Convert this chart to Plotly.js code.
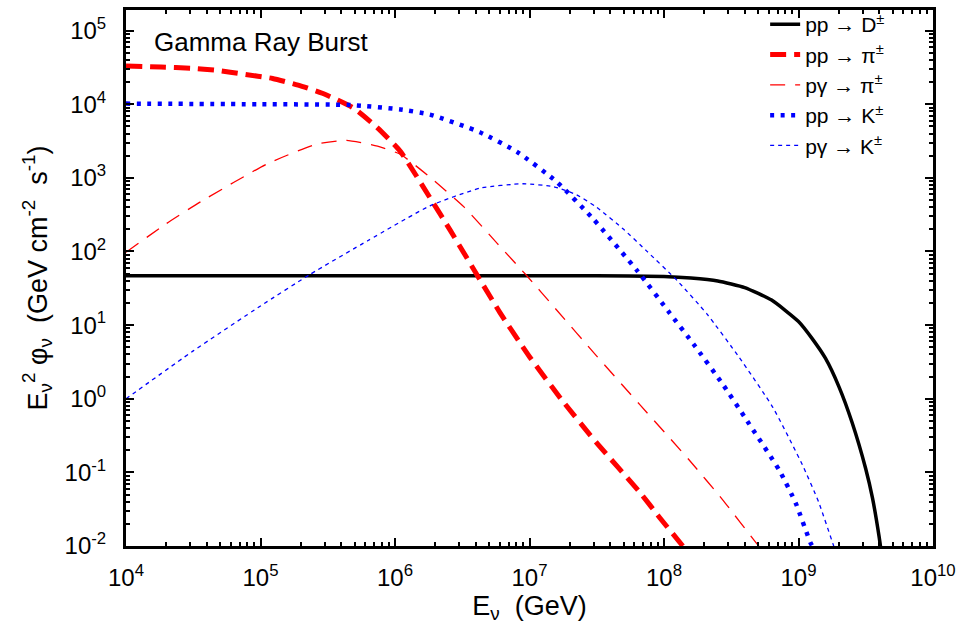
<!DOCTYPE html>
<html>
<head>
<meta charset="utf-8">
<script src="https://cdn.plot.ly/plotly-3.0.1.min.js"></script>
<style>html,body{margin:0;padding:0;background:#fff;}#chart{width:967px;height:632px;}</style>
</head>
<body>
<div id="chart"></div>
<script>
// pp -> D±
var dX = [1e4, 1e5, 1e6, 1e7, 3.16e7, 1e8, 1.585e8, 2.51e8, 3.98e8, 6.31e8, 1e9, 1.26e9, 1.585e9, 2e9, 2.51e9, 3.16e9, 3.55e9, 3.98e9, 4.17e9];
var dY = [46.8, 46.8, 46.8, 46.8, 46.8, 45.7, 43.6, 39.8, 32.4, 21.9, 11.2, 6.61, 3.55, 1.45, 0.468, 0.112, 0.0447, 0.0132, 0.0071];

// pp -> pi±
var ppPiX = [1e4, 1.82e4, 3.02e4, 4.79e4, 7.41e4, 1.23e5, 1.905e5, 2.88e5, 4.90e5, 7.41e5, 1.096e6, 1.82e6, 2.57e6, 4.27e6, 6.03e6, 1e7, 1.78e7, 3.16e7, 6.61e7, 9.33e7, 1.38e8, 1.585e8];
var ppPiY = [3.31e4, 3.20e4, 3.09e4, 2.88e4, 2.57e4, 2.24e4, 1.82e4, 1.41e4, 8910, 4790, 2290, 537, 195, 41.7, 14.8, 3.72, 0.912, 0.251, 0.0537, 0.0240, 0.0100, 0.0074];

// p gamma -> pi±
var pgPiX = [1e4, 2e4, 3.55e4, 1.12e5, 2.63e5, 4.37e5, 7.41e5, 1.096e6, 1.82e6, 3.24e6, 5.75e6, 9.55e6, 1.585e7, 3.16e7, 6.61e7, 1.55e8, 2.75e8, 5.01e8, 5.5e8];
var pgPiY = [97.7, 240, 468, 1550, 2880, 3240, 2690, 2090, 1020, 407, 129, 46.8, 16.2, 3.80, 0.832, 0.145, 0.0417, 0.0102, 0.0085];

// pp -> K±
var ppKX = [1e4, 1e5, 4.68e5, 1.096e6, 1.82e6, 4.27e6, 8.13e6, 1.585e7, 2.95e7, 6.31e7, 1.096e8, 1.66e8, 2.75e8, 3.98e8, 7.24e8, 9.55e8, 1.23e9, 1.32e9];
var ppKY = [1.02e4, 1.0e4, 9770, 8510, 7240, 4170, 2240, 891, 282, 55.0, 14.8, 5.50, 1.55, 0.562, 0.105, 0.038, 0.011, 0.0089];

// p gamma -> K±
var pgKX = [1e4, 3.16e4, 1e5, 2.34e5, 6.31e5, 1.82e6, 4.27e6, 8.91e6, 1.51e7, 2.24e7, 3.16e7, 5.01e7, 7.41e7, 1.26e8, 2.09e8, 3.63e8, 6.46e8, 1.07e9, 1.41e9, 1.82e9, 1.95e9];
var pgKY = [1.0, 4.47, 18.2, 49.0, 141, 417, 724, 832, 759, 589, 398, 200, 102, 39.8, 14.1, 3.63, 0.759, 0.126, 0.0398, 0.0102, 0.0071];

var seriesNames = ['pp \u2192 D<sup>\u00b1</sup>', 'pp \u2192 \u03c0<sup>\u00b1</sup>', 'p\u03b3 \u2192 \u03c0<sup>\u00b1</sup>', 'pp \u2192 K<sup>\u00b1</sup>', 'p\u03b3 \u2192 K<sup>\u00b1</sup>'];

var xTickVals = [1e4, 1e5, 1e6, 1e7, 1e8, 1e9, 1e10];
var xTickText = ['10<sup>4</sup>', '10<sup>5</sup>', '10<sup>6</sup>', '10<sup>7</sup>', '10<sup>8</sup>', '10<sup>9</sup>', '10<sup>10</sup>'];
var yTickVals = [1e-2, 1e-1, 1, 10, 100, 1e3, 1e4, 1e5];
var yTickText = ['10<sup>-2</sup>', '10<sup>-1</sup>', '10<sup>0</sup>', '10<sup>1</sup>', '10<sup>2</sup>', '10<sup>3</sup>', '10<sup>4</sup>', '10<sup>5</sup>'];

var FONT = 'Liberation Sans, Arial, Helvetica, sans-serif';
var NB = '\u00a0';

var traces = [
  {x: dX, y: dY, name: seriesNames[0], mode: 'lines', line: {color: '#000000', width: 3.5, shape: 'spline', smoothing: 0.5}},
  {x: ppPiX, y: ppPiY, name: seriesNames[1], mode: 'lines', line: {color: '#ff0000', width: 5, dash: '16px,8px', shape: 'spline', smoothing: 0.5}},
  {x: pgPiX, y: pgPiY, name: seriesNames[2], mode: 'lines', line: {color: '#ff0000', width: 1.3, dash: '15px,10px', shape: 'spline', smoothing: 0.5}},
  {x: ppKX, y: ppKY, name: seriesNames[3], mode: 'lines', line: {color: '#0000ff', width: 4.5, dash: '4px,6.5px', shape: 'spline', smoothing: 0.5}},
  {x: pgKX, y: pgKY, name: seriesNames[4], mode: 'lines', line: {color: '#0000ff', width: 1.3, dash: '4px,4px', shape: 'spline', smoothing: 0.5}}
];

var axisCommon = {
  type: 'log',
  showline: true, linewidth: 3, linecolor: '#000',
  mirror: 'allticks',
  ticks: 'inside', ticklen: 8, tickwidth: 2, tickcolor: '#000',
  showgrid: false, zeroline: false,
  tickmode: 'array',
  minor: {ticks: 'inside', ticklen: 4, tickwidth: 2, tickcolor: '#000', dtick: 'D1', showgrid: false},
  tickfont: {family: FONT, size: 24, color: '#000'},
  automargin: false
};

var layout = {
  width: 967, height: 632,
  margin: {l: 126, r: 34, t: 4, b: 86},
  paper_bgcolor: '#fff', plot_bgcolor: '#fff',
  font: {family: FONT, color: '#000'},
  showlegend: true,
  legend: {x: 0.792, y: 1.011, xanchor: 'left', yanchor: 'top', bgcolor: 'rgba(0,0,0,0)',
           font: {family: FONT, size: 21, color: '#000'}, tracegroupgap: 0},
  xaxis: Object.assign({}, axisCommon, {
    range: [4, 10], tickvals: xTickVals, ticktext: xTickText,
    ticklabelstandoff: 8,
    title: {text: 'E<sub>\u03bd</sub>' + NB.repeat(2) + '(GeV)', font: {family: FONT, size: 27, color: '#000'}, standoff: 6}
  }),
  yaxis: Object.assign({}, axisCommon, {
    range: [-2, 5.28], tickvals: yTickVals, ticktext: yTickText,
    ticklabelstandoff: 12,
    title: {text: 'E<sub>\u03bd</sub><sup>2</sup> \u03c6<sub>\u03bd</sub>' + NB.repeat(2) + '(GeV cm<sup>-2</sup>' + NB.repeat(2) + 's<sup>-1</sup>)',
            font: {family: FONT, size: 27, color: '#000'}, standoff: 10}
  }),
  annotations: [{
    text: 'Gamma Ray Burst', xref: 'paper', yref: 'paper', x: 0.032, y: 0.941,
    xanchor: 'left', yanchor: 'middle', showarrow: false,
    font: {family: FONT, size: 26, color: '#000'}
  }]
};

Plotly.newPlot('chart', traces, layout, {displayModeBar: false, staticPlot: true});
</script>
</body>
</html>
